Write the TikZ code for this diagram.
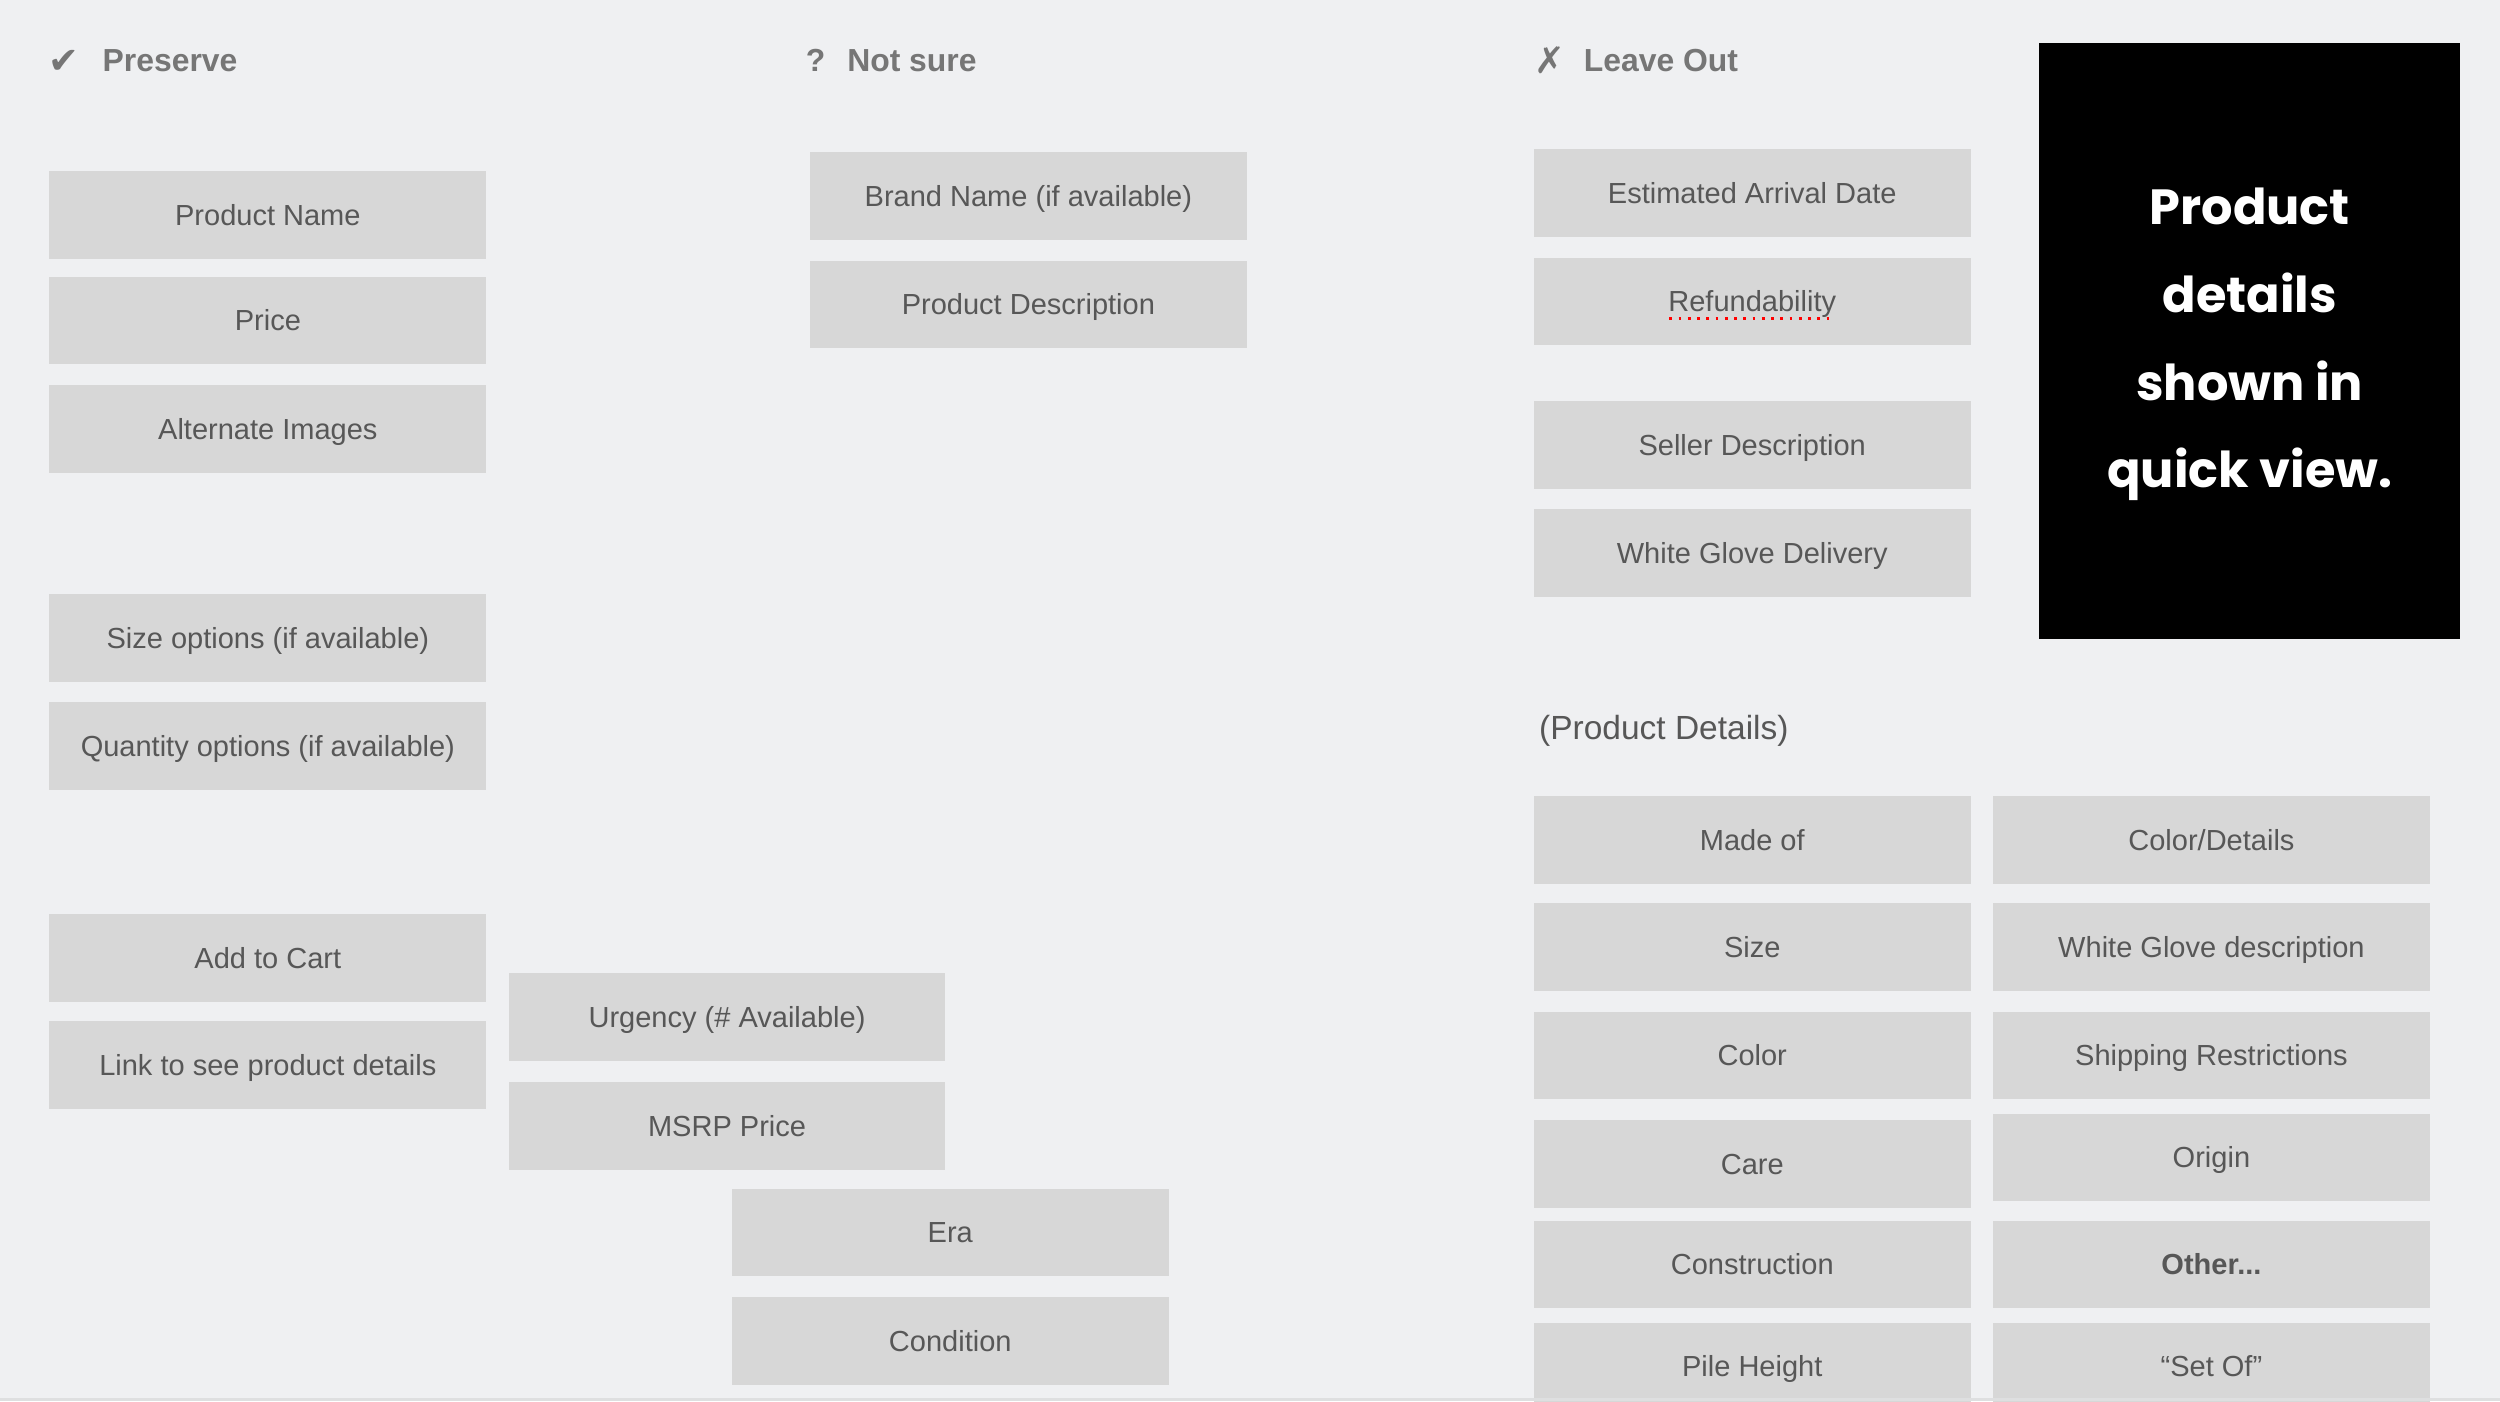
\documentclass[tikz,border=0pt]{standalone}
\usepackage{fontspec}
\setmainfont{Liberation Sans}
\newfontfamily\symfont{DejaVu Sans}
\newfontfamily\popfont{Poppins}
\definecolor{bggray}{HTML}{EFF0F2}
\definecolor{boxgray}{HTML}{D7D7D7}
\definecolor{txtgray}{HTML}{575757}
\definecolor{headgray}{HTML}{767676}
\definecolor{stripgray}{HTML}{DEDFE0}
\begin{document}
\begin{tikzpicture}[x=0.5pt,y=-0.5pt,
  box/.style={fill=boxgray, minimum width=137pt, minimum height=27.5pt, inner sep=0pt, text height=7.5pt, text depth=1pt, text=txtgray, font=\fontsize{9.1}{11}\selectfont},
  head/.style={anchor=base west, text=headgray, font=\fontsize{10}{12}\selectfont\bfseries, inner sep=0pt},
  sym/.style={anchor=base west, text=headgray, font=\symfont\fontsize{11.5}{12}\selectfont, inner sep=0pt},
  qv/.style={anchor=base, text=white, font=\popfont\bfseries\fontsize{15.5}{18}\selectfont, inner sep=0pt}]
\useasboundingbox (0,0) rectangle (1568,879);
\fill[bggray] (0,0) rectangle (1568,879);
% headings
\node[sym] (chk) at (30,46) {✔};
\node[head] (hpres) at (64,45) {Preserve};
\node[head] (qm) at (505,45) {?};
\node[head] (hns) at (531,45) {Not sure};
\node[sym] (crs) at (962,46) {✗};
\node[head] (hlo) at (993,45) {Leave Out};
% preserve column
\node[box] (pn) at (168,135) {Product Name};
\node[box] (pr) at (168,201) {Price};
\node[box] (ai) at (168,269) {Alternate Images};
\node[box] (so) at (168,400) {Size options (if available)};
\node[box] (qo) at (168,468) {Quantity options (if available)};
\node[box] (ac) at (168,601) {Add to Cart};
\node[box] (lk) at (168,668) {Link to see product details};
% not sure
\node[box] (bn) at (645,123) {Brand Name (if available)};
\node[box] (pd) at (645,191) {Product Description};
\node[box] (ur) at (456,638) {Urgency (\# Available)};
\node[box] (ms) at (456,706) {MSRP Price};
\node[box] (era) at (596,773) {Era};
\node[box] (cond) at (596,841) {Condition};
% leave out
\node[box] (ead) at (1099,121) {Estimated Arrival Date};
\node[box] (ref) at (1099,189) {Refundability};
\draw[red, dotted, line width=0.9pt] ([xshift=-26pt,yshift=-5.3pt]ref.center) -- ([xshift=26pt,yshift=-5.3pt]ref.center);
\node[box] (sd) at (1099,279) {Seller Description};
\node[box] (wgd) at (1099,347) {White Glove Delivery};
\node[anchor=base west, inner sep=0pt, text=txtgray, font=\fontsize{10.5}{12}\selectfont] (pdl) at (965,464) {(Product Details)};
\node[box] (mo) at (1099,527) {Made of};
\node[box] (sz) at (1099,594) {Size};
\node[box] (col) at (1099,662) {Color};
\node[box] (care) at (1099,730) {Care};
\node[box] (cons) at (1099,793) {Construction};
\node[box] (ph) at (1099,857) {Pile Height};
\node[box] (cd) at (1387,527) {Color/Details};
\node[box] (wgdesc) at (1387,594) {White Glove description};
\node[box] (ship) at (1387,662) {Shipping Restrictions};
\node[box] (orig) at (1387,726) {Origin};
\node[box, font=\fontsize{9.1}{11}\selectfont\bfseries] (oth) at (1387,793) {Other...};
\node[box] (setof) at (1387,857) {“Set Of”};
% quick view box
\node[fill=black, minimum width=132pt, minimum height=187pt, inner sep=0pt] (qvbox) at (1411,214) {};
\node[qv] (qv1) at (1411,141) {Product};
\node[qv] (qv2) at (1411,196) {details};
\node[qv] (qv3) at (1411,251) {shown in};
\node[qv] (qv4) at (1411,306) {quick view.};
% bottom strip
\fill[stripgray] (0,877) rectangle (1568,879);
\end{tikzpicture}
\end{document}
